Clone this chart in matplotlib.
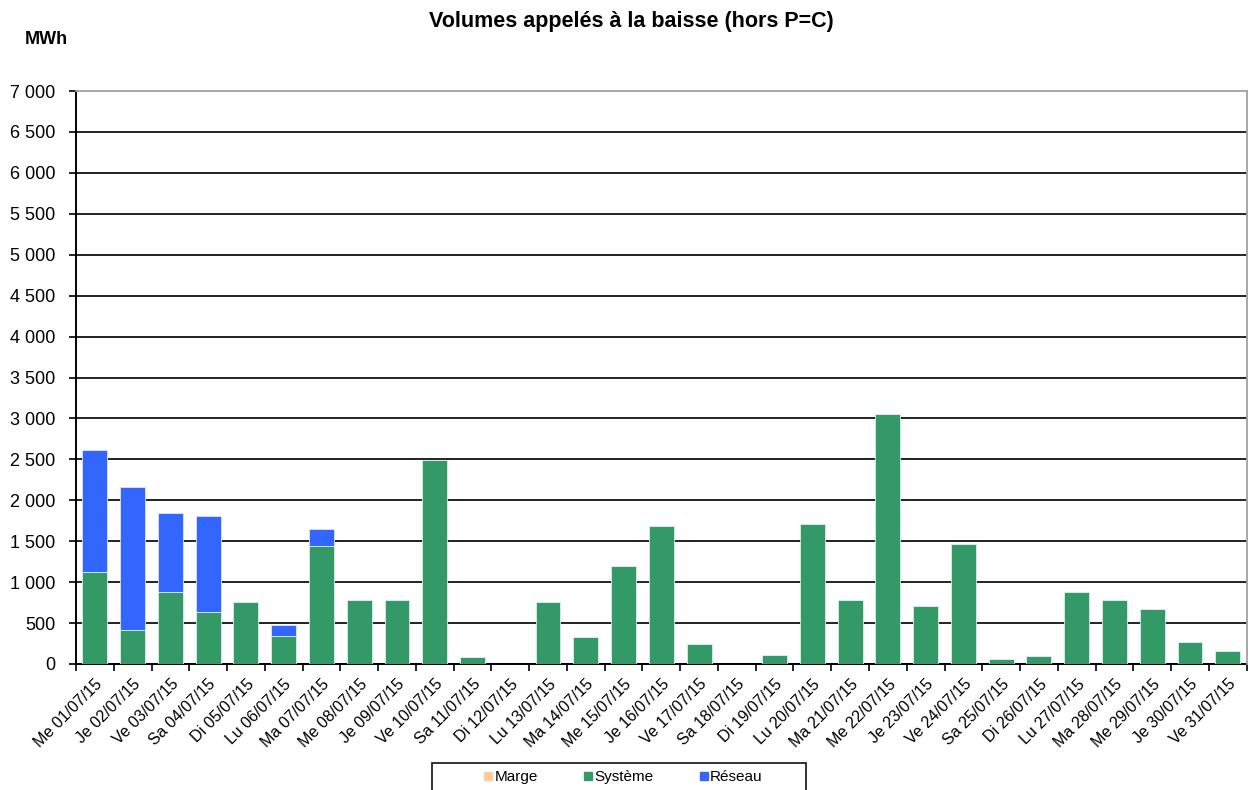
import matplotlib.pyplot as plt
import numpy as np
from matplotlib.lines import Line2D
from matplotlib.patches import Rectangle

plt.rcParams['font.family'] = ['Liberation Sans', 'DejaVu Sans']

# data (MWh)
jours = ['Me 01/07/15', 'Je 02/07/15', 'Ve 03/07/15', 'Sa 04/07/15', 'Di 05/07/15',
         'Lu 06/07/15', 'Ma 07/07/15', 'Me 08/07/15', 'Je 09/07/15', 'Ve 10/07/15',
         'Sa 11/07/15', 'Di 12/07/15', 'Lu 13/07/15', 'Ma 14/07/15', 'Me 15/07/15',
         'Je 16/07/15', 'Ve 17/07/15', 'Sa 18/07/15', 'Di 19/07/15', 'Lu 20/07/15',
         'Ma 21/07/15', 'Me 22/07/15', 'Je 23/07/15', 'Ve 24/07/15', 'Sa 25/07/15',
         'Di 26/07/15', 'Lu 27/07/15', 'Ma 28/07/15', 'Me 29/07/15', 'Je 30/07/15',
         'Ve 31/07/15']

marge   = [0] * 31
systeme = [1125, 415, 880, 630, 760, 345, 1440, 780, 780, 2495,
           80, 0, 760, 325, 1200, 1690, 250, 0, 115, 1705,
           780, 3055, 705, 1460, 60, 95, 875, 780, 670, 265, 155]
reseau  = [1495, 1750, 960, 1175, 0, 135, 210, 0, 0, 0,
           0, 0, 0, 0, 0, 0, 0, 0, 0, 0,
           0, 0, 0, 0, 0, 0, 0, 0, 0, 0, 0]

yticks = np.arange(0, 7001, 500)

cMarge = '#FFCC99'
cSys   = '#339966'
cRes   = '#3366FF'

fig = plt.figure(figsize=(12.5, 7.9), dpi=100, facecolor='w')
ax = fig.add_axes([0.0608, 0.1595, 0.9365, 0.7253])

x = np.arange(len(jours))
w = 0.66
marge = np.array(marge)
systeme = np.array(systeme)
reseau = np.array(reseau)

ax.bar(x, marge, w, color=cMarge, zorder=3)
ax.bar(x, systeme, w, bottom=marge, color=cSys, edgecolor='#dff0e6', linewidth=0.6, zorder=3)
ax.bar(x, reseau, w, bottom=marge + systeme, color=cRes, edgecolor='#dde6ff', linewidth=0.6, zorder=3)

ax.set_xlim(-0.5, len(jours) - 0.5)
ax.set_ylim(0, 7000)
ax.set_yticks(yticks)
ax.set_yticklabels(['{:,}'.format(v).replace(',', ' ') for v in yticks], fontsize=13)
ax.yaxis.grid(True, color='#111111', linewidth=1.3, zorder=0)
ax.set_axisbelow(True)

ax.set_xticks(x)
ax.set_xticklabels(jours, rotation=45, ha='right', rotation_mode='anchor', fontsize=11.5)
ax.set_xticks(np.arange(-0.5, len(jours)), minor=True)
ax.tick_params(axis='x', which='major', length=0, pad=9)
ax.tick_params(axis='x', which='minor', length=5, width=1.2, direction='out', color='black')
ax.tick_params(axis='y', length=5, width=1.2, direction='out', pad=10)

for s in ['left', 'bottom']:
    ax.spines[s].set_linewidth(1.4)
    ax.spines[s].set_color('black')
for s in ['top', 'right']:
    ax.spines[s].set_linewidth(1.3)
    ax.spines[s].set_color('#a0a0a0')
    ax.spines[s].set_zorder(4)
# top gridline sits under the gray frame
ax.yaxis.get_gridlines()[-1].set_visible(False)

fig.text(0.505, 0.973, 'Volumes appelés à la baisse (hors P=C)', ha='center', va='center',
         fontsize=15.5, fontweight='bold')
fig.text(0.02, 0.95, 'MWh', ha='left', va='center', fontsize=13, fontweight='bold')

# legend box, clipped by the bottom edge
fig.patches.append(Rectangle((432 / 1250, -0.02), 374 / 1250, 0.02 + 27 / 790,
                             transform=fig.transFigure, fill=False,
                             edgecolor='#222222', linewidth=1.3))
handles = [Line2D([], [], marker='s', linestyle='none', markersize=6, color=c)
           for c in [cMarge, cSys, cRes]]
leg = fig.legend(handles, ['Marge', 'Système', 'Réseau'], loc='center',
                 bbox_to_anchor=(0.4985, 1 - 777 / 790), ncol=3, fontsize=11,
                 frameon=False, handlelength=0.6, handletextpad=0.1,
                 columnspacing=3.0, borderpad=0)

plt.savefig('out.png', dpi=100)
